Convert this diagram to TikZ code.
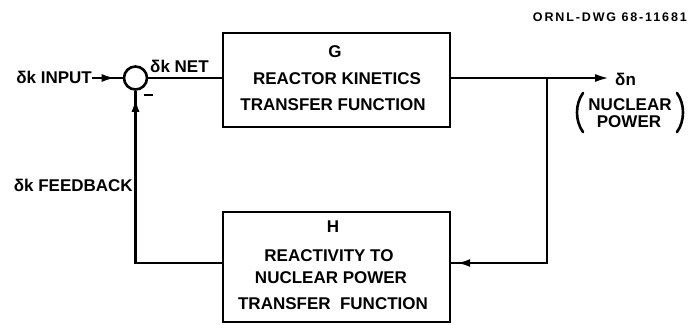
\documentclass[tikz,border=0pt]{standalone}
\usepackage{fontspec}
\setmainfont{Liberation Sans}
\newfontfamily\spacedfont{Liberation Sans}[LetterSpace=15]
\usetikzlibrary{arrows.meta,decorations.markings,calc}

\tikzset{
  lbl/.style={inner sep=0pt, font=\bfseries\fontsize{17}{19}\selectfont},
  small/.style={inner sep=0pt, font=\spacedfont\bfseries\fontsize{12.5}{14}\selectfont},
  blockbox/.style={draw, line width=2.4pt, inner sep=0pt},
  wire/.style={line width=2.8pt},
  headtip/.style={-{Latex[length=15pt,width=8pt]}},
  midtip/.style={postaction={decorate},
    decoration={markings, mark=at position #1 with {\arrow{Latex[length=14pt,width=8pt]}}}},
  paren/.style={line width=2.6pt, line cap=round}
}

\begin{document}
\begin{tikzpicture}[x=1pt,y=-1pt]
\useasboundingbox (0,0) rectangle (688,324);

% drawing number
\node[small, anchor=base east] (dwg) at (687,21) {ORNL-DWG 68-11681};

% summing junction
\node[draw, circle, line width=2.6pt, minimum size=23pt, inner sep=0pt] (sum) at (135.5,78) {};
\node[inner sep=0pt] (minus) at (148,95) {\rule{9pt}{2.6pt}};

% forward block G
\node[blockbox, minimum width=227pt, minimum height=94pt] (G) at (336.5,80) {};
\node[lbl, anchor=base] (Gname) at (335,57) {G};
\node[lbl, anchor=base] (Gl1) at (337,84) {REACTOR KINETICS};
\node[lbl, anchor=base] (Gl2) at (333,110) {TRANSFER FUNCTION};

% feedback block H
\node[blockbox, minimum width=227pt, minimum height=110pt] (H) at (336.5,267) {};
\node[lbl, anchor=base] (Hname) at (333,232) {H};
\node[lbl, anchor=base] (Hl1) at (329,261) {REACTIVITY TO};
\node[lbl, anchor=base] (Hl2) at (331,283) {NUCLEAR POWER};
\node[lbl, anchor=base] (Hl3) at (333,309) {TRANSFER\ \ FUNCTION};

% signal labels
\node[lbl, anchor=base east] (input) at (92,83) {δk INPUT};
\node[lbl, anchor=base west] (net) at (150,72) {δk NET};
\node[lbl, anchor=base east] (fbk) at (133,191) {δk FEEDBACK};
\node[lbl, anchor=base west] (dn) at (615,85) {δn};
\node[lbl, anchor=base] (nuc) at (630,110) {NUCLEAR};
\node[lbl, anchor=base] (pow) at (629,127) {POWER};
\draw[paren] (583,93) .. controls (575,104) and (575,121) .. (583,132);
\draw[paren] (677,93) .. controls (685,104) and (685,121) .. (677,132);

% branch points
\coordinate (out) at (610,78);
\coordinate (jn) at (547,78);
\coordinate (jb) at (547,263);
\coordinate (fb) at (135.5,263);

% connectors
\draw[wire, midtip=-7pt] (input.east |- sum.west) -- (sum.west);
\draw[wire] (sum.east) -- (sum.east -| G.west);
\draw[wire, headtip] (sum.east -| G.east) -- (out);
\draw[wire, midtip=-5pt] (jn) -- (jb) -- (jb -| H.east);
\draw[wire, midtip=-7pt] (H.west |- fb) -- (fb) -- (sum.south);
\end{tikzpicture}
\end{document}
